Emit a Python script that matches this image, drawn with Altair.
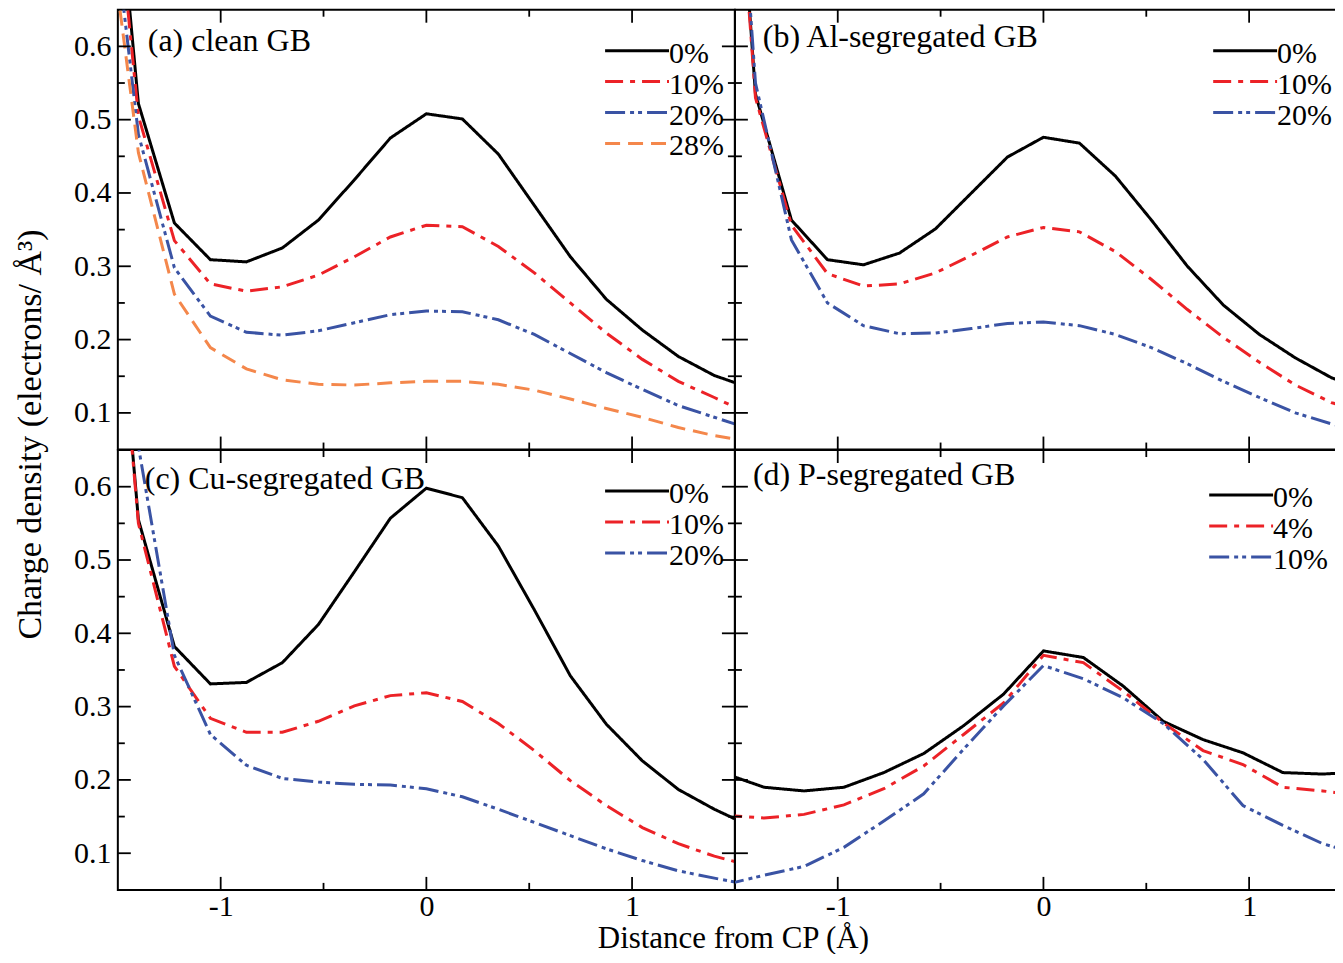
import altair as alt
import pandas as pd

FONT = "Liberation Serif"

# ---------------- data ----------------
x_grid_abc = [-1.575, -1.4, -1.225, -1.05, -0.875, -0.7, -0.525, -0.35, -0.175, 0.0,
              0.175, 0.35, 0.525, 0.7, 0.875, 1.05, 1.225, 1.4, 1.575]
x_grid_d = [-1.552, -1.358, -1.164, -0.97, -0.776, -0.582, -0.388, -0.194, 0.0,
            0.194, 0.388, 0.582, 0.776, 0.97, 1.164, 1.358, 1.552]

labels_a = ["0%", "10%", "20%", "28%"]
a_0 = [1.05, 0.522, 0.359, 0.309, 0.306, 0.325, 0.363, 0.418, 0.475, 0.508, 0.501, 0.453, 0.383, 0.313, 0.255, 0.213, 0.177, 0.151, 0.134]
a_10 = [1.0, 0.505, 0.335, 0.276, 0.266, 0.272, 0.288, 0.313, 0.340, 0.356, 0.354, 0.327, 0.291, 0.250, 0.209, 0.173, 0.143, 0.121, 0.098]
a_20 = [0.90, 0.48, 0.298, 0.232, 0.210, 0.206, 0.212, 0.223, 0.234, 0.239, 0.238, 0.227, 0.207, 0.181, 0.155, 0.132, 0.110, 0.094, 0.078]
a_28 = [0.835, 0.455, 0.262, 0.189, 0.160, 0.145, 0.139, 0.138, 0.141, 0.143, 0.143, 0.139, 0.131, 0.119, 0.106, 0.094, 0.080, 0.069, 0.061]

labels_b = ["0%", "10%", "20%"]
b_0 = [1.23, 0.535, 0.363, 0.309, 0.302, 0.318, 0.351, 0.400, 0.449, 0.476, 0.468, 0.423, 0.363, 0.300, 0.247, 0.207, 0.175, 0.148, 0.130]
b_10 = [1.2, 0.53, 0.356, 0.290, 0.273, 0.276, 0.291, 0.315, 0.340, 0.353, 0.347, 0.320, 0.282, 0.241, 0.203, 0.169, 0.138, 0.114, 0.100]
b_20 = [1.25, 0.55, 0.336, 0.250, 0.219, 0.208, 0.209, 0.215, 0.222, 0.224, 0.219, 0.207, 0.189, 0.167, 0.143, 0.121, 0.100, 0.085, 0.073]

labels_c = ["0%", "10%", "20%"]
c_0 = [1.13, 0.555, 0.382, 0.331, 0.333, 0.360, 0.412, 0.484, 0.557, 0.598, 0.585, 0.519, 0.432, 0.342, 0.276, 0.226, 0.187, 0.160, 0.137]
c_10 = [1.12, 0.55, 0.355, 0.284, 0.265, 0.265, 0.280, 0.301, 0.315, 0.319, 0.307, 0.277, 0.240, 0.199, 0.165, 0.135, 0.113, 0.096, 0.083]
c_20 = [1.2, 0.655, 0.37, 0.262, 0.220, 0.202, 0.197, 0.194, 0.193, 0.188, 0.177, 0.160, 0.142, 0.124, 0.106, 0.090, 0.076, 0.066, 0.057]

labels_d = ["0%", "4%", "10%"]
d_0 = [0.209, 0.190, 0.185, 0.190, 0.210, 0.236, 0.274, 0.317, 0.376, 0.367, 0.328, 0.280, 0.255, 0.237, 0.210, 0.208, 0.211]
d_4 = [0.152, 0.148, 0.153, 0.166, 0.188, 0.219, 0.262, 0.305, 0.370, 0.360, 0.321, 0.278, 0.240, 0.221, 0.190, 0.185, 0.178]
d_10 = [0.057, 0.070, 0.082, 0.108, 0.144, 0.181, 0.242, 0.301, 0.356, 0.338, 0.312, 0.277, 0.228, 0.165, 0.138, 0.113, 0.097]

panel_titles = ["(a) clean GB", "(b) Al-segregated GB", "(c) Cu-segregated GB", "(d) P-segregated GB"]

x_major_ticks = [-1, 0, 1]
x_minor_ticks = [-0.5, 0.5]
y_major_ticks = [0.1, 0.2, 0.3, 0.4, 0.5, 0.6]
y_minor_ticks = [0.15, 0.25, 0.35, 0.45, 0.55]

y_title = "Charge density (electrons/ Å³)"
x_title = "Distance from CP (Å)"

# ---------------- styles ----------------
COLORS = ["#000000", "#ec2227", "#3a53a4", "#f4874b"]
DASHES = [[1, 0], [18, 7, 5, 7], [20, 5, 4, 4, 4, 5], [15, 8]]
W, H = 618, 440.5
X_DOMAIN = [-1.5, 1.5]
Y_DOMAIN = [0.05, 0.65]
MAJ, MIN = 13, 7


def panel(x_grid, labels, series, title, y_axis, x_axis, title_pos, leg_x, leg_y0):
    rows = []
    for lab, vals in zip(labels, series):
        for xv, yv in zip(x_grid, vals):
            rows.append({"x": xv, "y": yv, "series": lab})
    df = pd.DataFrame(rows)
    xs = alt.Scale(domain=X_DOMAIN, nice=False, zero=False)
    ys = alt.Scale(domain=Y_DOMAIN, nice=False, zero=False)
    n = len(labels)
    cs = alt.Scale(domain=labels, range=COLORS[:n])
    ds = alt.Scale(domain=labels, range=DASHES[:n])

    lines = alt.Chart(df).mark_line(clip=True, strokeWidth=3).encode(
        x=alt.X("x:Q", scale=xs, axis=x_axis),
        y=alt.Y("y:Q", scale=ys, axis=y_axis),
        color=alt.Color("series:N", scale=cs, legend=None),
        strokeDash=alt.StrokeDash("series:N", scale=ds, legend=None),
        detail="series:N",
    )

    def xt(vals, y0, y1):
        return alt.Chart(pd.DataFrame({"v": vals})).mark_rule(
            color="black", strokeWidth=1.8).encode(
            x=alt.X("v:Q", scale=xs, axis=None), y=alt.value(y0), y2=alt.value(y1))

    def yt(vals, x0, x1):
        return alt.Chart(pd.DataFrame({"v": vals})).mark_rule(
            color="black", strokeWidth=1.8).encode(
            y=alt.Y("v:Q", scale=ys, axis=None), x=alt.value(x0), x2=alt.value(x1))

    ticks = [
        xt(x_major_ticks, 0, MAJ), xt(x_minor_ticks, 0, MIN),
        xt(x_major_ticks, H, H - MAJ), xt(x_minor_ticks, H, H - MIN),
        yt(y_major_ticks, 0, MAJ), yt(y_minor_ticks, 0, MIN),
        yt(y_major_ticks, W, W - MAJ), yt(y_minor_ticks, W, W - MIN),
    ]

    ttl = alt.Chart(pd.DataFrame({"t": [title]})).mark_text(
        font=FONT, fontSize=32, align="left", baseline="alphabetic", color="black").encode(
        x=alt.value(title_pos[0]), y=alt.value(title_pos[1]), text="t:N")

    leg_df = pd.DataFrame({"series": labels, "row": list(range(n))})
    ls = alt.Scale(domain=[0, 3], range=[leg_y0, leg_y0 + 93])
    leg_rule = alt.Chart(leg_df).mark_rule(strokeWidth=3).encode(
        x=alt.value(leg_x), x2=alt.value(leg_x + 64),
        y=alt.Y("row:Q", scale=ls, axis=None),
        color=alt.Color("series:N", scale=cs, legend=None),
        strokeDash=alt.StrokeDash("series:N", scale=ds, legend=None),
    )
    leg_text = alt.Chart(leg_df).mark_text(
        font=FONT, fontSize=30, align="left", baseline="alphabetic", dy=12, color="black").encode(
        x=alt.value(leg_x + 64), y=alt.Y("row:Q", scale=ls, axis=None), text="series:N")

    return alt.layer(lines, *ticks, ttl, leg_rule, leg_text).resolve_scale(
        x="independent", y="independent").properties(width=W, height=H)


common_label = dict(labelFont=FONT, labelFontSize=30, labelColor="black", ticks=False,
                    tickSize=0, domain=False, grid=False)

y_axis_a = alt.Axis(values=y_major_ticks, format=".1f", labelPadding=7, title=y_title,
                    titleFont=FONT, titleFontSize=34, titleFontWeight="normal", titleColor="black",
                    titleX=-77, titleY=425, titleAngle=270, titleBaseline="alphabetic",
                    titleAlign="center", **common_label)
y_axis_c = alt.Axis(values=y_major_ticks, format=".1f", labelPadding=7, title=None, **common_label)
x_axis_c = alt.Axis(values=x_major_ticks, labelExpr="'' + datum.value", labelPadding=2,
                    title=x_title, titleFont=FONT, titleFontSize=31, titleFontWeight="normal",
                    titleColor="black", titleX=616, titleY=58, titleBaseline="alphabetic",
                    titleAlign="center", labelFlush=False, **common_label)
x_axis_d = alt.Axis(values=x_major_ticks, labelExpr="'' + datum.value", labelPadding=2,
                    title=None, labelFlush=False, **common_label)

pa = panel(x_grid_abc, labels_a, [a_0, a_10, a_20, a_28], panel_titles[0],
           y_axis_a, None, (30, 41), 488, 41)
pb = panel(x_grid_abc, labels_b, [b_0, b_10, b_20], panel_titles[1],
           None, None, (28, 37), 479, 41)
pc = panel(x_grid_abc, labels_c, [c_0, c_10, c_20], panel_titles[2],
           y_axis_c, x_axis_c, (27, 39), 488, 41)
pd_ = panel(x_grid_d, labels_d, [d_0, d_4, d_10], panel_titles[3],
            None, x_axis_d, (18, 35), 475, 45)

chart = alt.concat(pa, pb, pc, pd_, columns=2, spacing=0, bounds="flush").resolve_scale(
    x="independent", y="independent", color="independent", strokeDash="independent"
).properties(
    padding={"top": -1, "left": 5, "right": -19, "bottom": -2},
    background="white",
).configure_view(stroke="black", strokeWidth=2)

chart.save("out.html", embed_options={"renderer": "svg", "actions": False})
